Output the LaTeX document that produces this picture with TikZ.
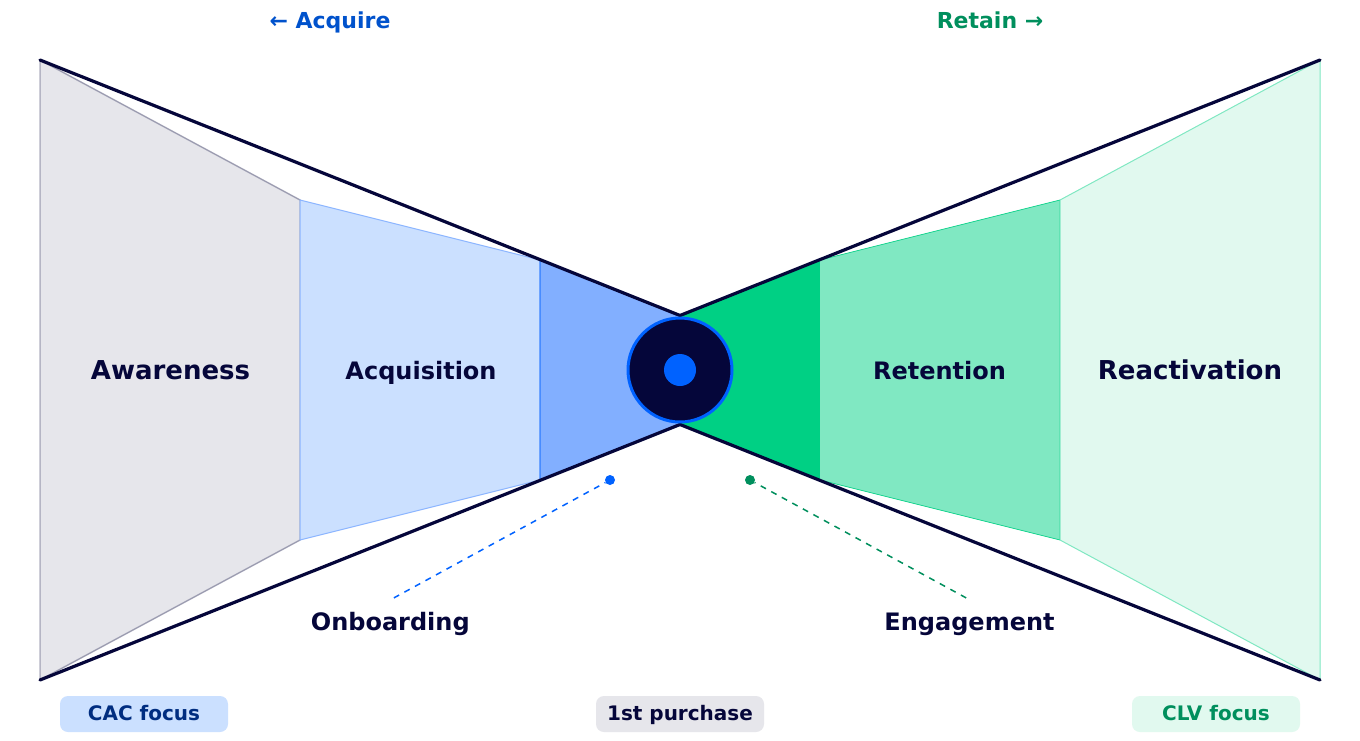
\documentclass[tikz,border=0pt]{standalone}
\usepackage{fontspec}
\setmainfont{DejaVu Sans}
\definecolor{navy}{HTML}{05063A}
\definecolor{bluem}{HTML}{0062FF}
\definecolor{blued}{HTML}{002D80}
\definecolor{bluel}{HTML}{CBE0FF}
\definecolor{bluet}{HTML}{82AFFF}
\definecolor{bluetxt}{HTML}{0052CC}
\definecolor{greenm}{HTML}{00D084}
\definecolor{greens}{HTML}{80E8C2}
\definecolor{greenl}{HTML}{E1F9EF}
\definecolor{greent}{HTML}{008F5D}
\definecolor{greyl}{HTML}{E6E6EB}
\tikzset{
  lab/.style={font=\fontsize{#1}{#1}\selectfont\bfseries,text=navy,inner sep=0pt,anchor=base},
  head/.style={font=\fontsize{22}{22}\selectfont\bfseries,inner sep=0pt,anchor=base},
  pillbox/.style={inner sep=0pt,minimum width=168pt,minimum height=36pt,rounded corners=8pt,anchor=center},
  pilltext/.style={font=\fontsize{20}{20}\selectfont\bfseries,inner sep=0pt,anchor=base},
  dot/.style={circle,inner sep=0pt,minimum size=10pt},
  ribbon/.style={line width=3.2pt,draw=navy,line cap=round,line join=round},
  leader/.style={line width=1.5pt,dash pattern=on 6pt off 6pt,dash phase=5pt},
}
\begin{document}
\begin{tikzpicture}[x=1pt,y=-1pt]
\useasboundingbox (0,0) rectangle (1360,740);
\fill[white] (0,0) rectangle (1360,740);
% funnel segments
\filldraw[fill=greyl,draw=navy!22!greyl,line width=1.5pt] (40,60) -- (300,200) -- (300,540) -- (40,680) -- cycle;
\draw[draw=navy!35!greyl,line width=.7pt] (40,60) -- (300,200) (300,540) -- (40,680);
\filldraw[fill=bluel,draw=bluet!85!bluel,line width=1pt] (300,200) -- (540,260) -- (540,480) -- (300,540) -- cycle;
\filldraw[fill=bluet,draw=bluem!45!bluet,line width=1.5pt] (540,260) -- (680,315) -- (680,425) -- (540,480) -- cycle;
\fill[greenm] (680,315) -- (820,260) -- (820,480) -- (680,425) -- cycle;
\filldraw[fill=greens,draw=greenm,line width=.7pt] (820,260) -- (1060,200) -- (1060,540) -- (820,480);
\fill[greens] (820.5,260) rectangle (821.5,480);
\filldraw[fill=greenl,draw=greens,line width=1pt] (1060,200) -- (1320,60) -- (1320,680) -- (1060,540) -- cycle;
% outline
\coordinate (tl) at (40,60);
\coordinate (tc) at (680,315.5);
\coordinate (tr) at (1320,60);
\coordinate (bl) at (40,680);
\coordinate (bc) at (680,424.5);
\coordinate (br) at (1320,680);
\draw[ribbon] (tl) -- (tc) -- (tr);
\draw[ribbon] (bl) -- (bc) -- (br);
% centre
\node[circle,draw=bluem,fill=navy,line width=3pt,inner sep=0pt,minimum size=104pt] (hub) at (680,370) {};
\node[circle,fill=bluem,inner sep=0pt,minimum size=32pt] (hubdot) at (680,370) {};
% stage labels
\node[lab=26] (aware) at (170.5,379.5) {Awareness};
\node[lab=24] (acq) at (421,379) {Acquisition};
\node[lab=24] (ret) at (939.5,379) {Retention};
\node[lab=26] (react) at (1190,379.5) {Reactivation};
% callouts
\node[dot,fill=bluem] (dotl) at (610,480) {};
\node[dot,fill=greent] (dotr) at (750,480) {};
\node[lab=24] (onb) at (390.3,630) {Onboarding};
\node[lab=24] (eng) at (969.5,630) {Engagement};
\coordinate (onbend) at (390,600);
\coordinate (engend) at (970,600);
\draw[leader,draw=bluem] (dotl) -- (onbend);
\draw[leader,draw=greent] (dotr) -- (engend);
% headings
\node[head,text=bluetxt] (acquire) at (330,28) {← Acquire};
\node[head,text=greent] (retain) at (990,28) {Retain →};
% pills
\node[pillbox,fill=bluel] (cac) at (144,714) {};
\node[pilltext,text=blued] (cactxt) at (144,720.5) {CAC focus};
\node[pillbox,fill=greyl] (first) at (680,714) {};
\node[pilltext,text=navy] (firsttxt) at (680,720.5) {1st purchase};
\node[pillbox,fill=greenl] (clv) at (1216,714) {};
\node[pilltext,text=greent] (clvtxt) at (1216,720.5) {CLV focus};
\end{tikzpicture}
\end{document}
